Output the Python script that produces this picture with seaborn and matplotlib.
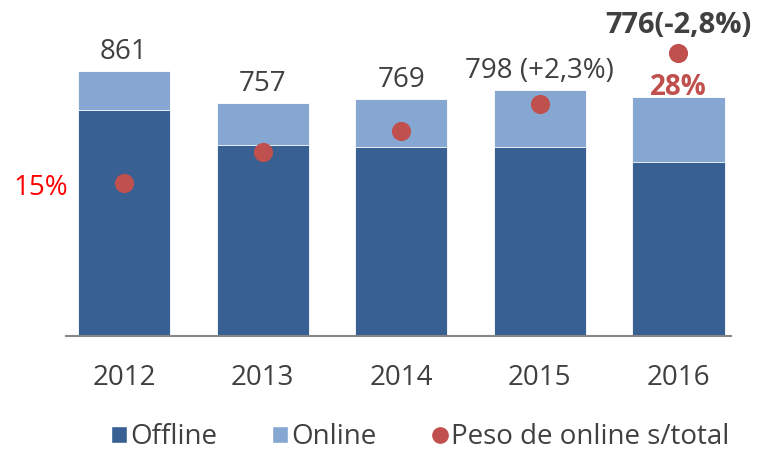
import numpy as np
import pandas as pd
import seaborn as sns
import matplotlib.pyplot as plt
from matplotlib.lines import Line2D
from matplotlib.patches import Patch

years = ["2012", "2013", "2014", "2015", "2016"]
offline = [734, 621, 614, 614, 565]
online = [127, 136, 155, 184, 211]
peso_online = [15.0, 18.1, 20.2, 22.9, 28.0]
bar_labels = ["861", "757", "769", "798 (+2,3%)", "776(-2,8%)"]

DARK = "#386093"
LIGHT = "#87A7D3"
RED = "#C0504D"
GREY = "#404040"

sns.set_theme(style="white")
plt.rcParams["font.family"] = ["Open Sans", "DejaVu Sans"]

df = pd.DataFrame({"year": years, "offline": offline, "online": online, "peso": peso_online})
df["total"] = df["offline"] + df["online"]

fig = plt.figure(figsize=(7.61, 4.5), dpi=100)
ax = fig.add_axes([0.0867, 0.2533, 0.8739, 0.7467])

# stacked bars: total (online on top) then offline over it
sns.barplot(data=df, x="year", y="total", color=LIGHT, saturation=1, width=0.664,
            edgecolor="white", linewidth=0.6, ax=ax)
sns.barplot(data=df, x="year", y="offline", color=DARK, saturation=1, width=0.664,
            edgecolor="white", linewidth=0.6, ax=ax)

ax.set_xlim(-0.418, 4.379)
ax.set_ylim(0, 1092)
ax.set_xlabel("")
ax.set_ylabel("")
ax.set_yticks([])
for s in ["top", "left", "right"]:
    ax.spines[s].set_visible(False)
ax.spines["bottom"].set_color("#868686")
ax.spines["bottom"].set_linewidth(1.5)
ax.tick_params(axis="x", length=0, pad=20, labelsize=20, labelcolor=GREY)

for i, (lab, tot) in enumerate(zip(bar_labels, df["total"])):
    if i == len(bar_labels) - 1:
        ax.annotate(lab, xy=(i, tot), xytext=(0, 46), textcoords="offset points",
                    ha="center", va="baseline", fontsize=21, color=GREY, fontweight="bold")
    else:
        ax.annotate(lab, xy=(i, tot), xytext=(0, 9), textcoords="offset points",
                    ha="center", va="baseline", fontsize=20, color=GREY)

ax2 = ax.twinx()
sns.scatterplot(x=np.arange(len(years)), y=df["peso"], color=RED, s=190,
                linewidth=0, ax=ax2, zorder=5)
ax2.set_ylim(-0.3, 33.3)
ax2.set_yticks([])
ax2.set_ylabel("")
for s in ax2.spines.values():
    s.set_visible(False)

ax2.annotate("15%", xy=(0, peso_online[0]), xytext=(-40, -3.6), textcoords="offset points",
             ha="right", va="center", fontsize=20, color="#FF0000")
ax2.annotate("28%", xy=(4, peso_online[-1]), xytext=(0, -30), textcoords="offset points",
             ha="center", va="baseline", fontsize=20, color=RED, fontweight="bold")

handles = [Patch(facecolor=DARK), Patch(facecolor=LIGHT),
           Line2D([], [], marker="o", linestyle="", color=RED, markersize=11)]
fig.legend(handles, ["Offline", "Online", "Peso de online s/total"], loc="center",
           bbox_to_anchor=(0.552, 1 - 437 / 450), ncol=3, frameon=False, fontsize=20,
           handlelength=0.58, handleheight=0.58, handletextpad=0.1, columnspacing=2.0,
           labelcolor=GREY)

fig.savefig("out.png", dpi=100)
